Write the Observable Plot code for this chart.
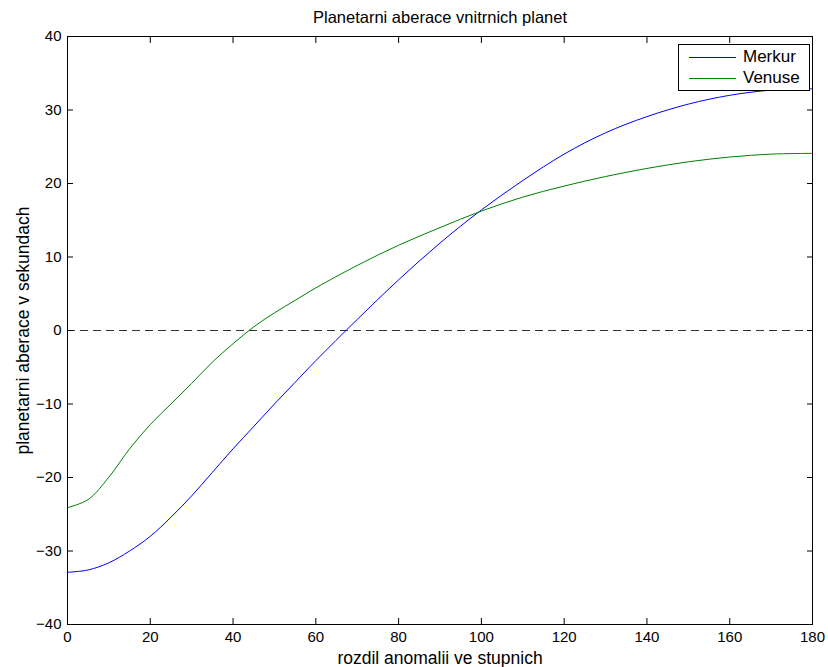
<!DOCTYPE html>
<html>
<head>
<meta charset="utf-8">
<script src="https://cdn.jsdelivr.net/npm/d3@7"></script>
<script src="https://cdn.jsdelivr.net/npm/@observablehq/plot@0.6"></script>
<style>
  html, body { margin: 0; padding: 0; background: #fff; }
  #wrap { position: relative; width: 828px; height: 667px; font-family: "Liberation Sans", Arial, Helvetica, sans-serif; }
  #legend { position: absolute; left: 678px; top: 44px; width: 130px; height: 45px; border: 1px solid #000; background: #fff; font-size: 17px; color: #000; }
  .row { position: absolute; left: 0; height: 20px; display: flex; align-items: center; white-space: nowrap; }
  .sw { width: 47px; height: 0; border-top: 1px solid; margin-left: 10px; margin-right: 7px; }
</style>
</head>
<body>
<div id="wrap"></div>
<script>
const title = "Planetarni aberace vnitrnich planet";
const xLabel = "rozdil anomalii ve stupnich";
const yLabel = "planetarni aberace v sekundach";
const seriesNames = ["Merkur", "Venuse"];
const seriesColors = ["#0000ff", "#008000"];
const xTicks = [0, 20, 40, 60, 80, 100, 120, 140, 160, 180];
const yTicks = [-40, -30, -20, -10, 0, 10, 20, 30, 40];

const anomaly = [0, 5, 10, 15, 20, 25, 30, 35, 40, 45, 50, 55, 60, 70, 80, 90, 100, 110, 120, 130, 140, 150, 160, 170, 180];
const merkur = [-32.9, -32.58, -31.6, -30.0, -28.0, -25.4, -22.5, -19.3, -16.1, -13.05, -10.0, -7.05, -4.1, 1.5, 6.9, 11.9, 16.4, 20.4, 24.0, 26.9, 29.1, 30.8, 32.0, 32.7, 32.9];
const venuse = [-24.1, -23.0, -19.95, -16.1, -12.8, -10.0, -7.2, -4.3, -1.8, 0.5, 2.4, 4.1, 5.8, 8.85, 11.6, 14.0, 16.25, 18.15, 19.65, 20.95, 22.05, 22.95, 23.6, 24.0, 24.1];

const data = [];
[merkur, venuse].forEach((vals, s) => {
  anomaly.forEach((a, i) => data.push({series: seriesNames[s], x: a, y: vals[i]}));
});

const font = "Liberation Sans, Arial, Helvetica, sans-serif";

const chart = Plot.plot({
  width: 828,
  height: 667,
  marginLeft: 67,
  marginRight: 16,
  marginTop: 36,
  marginBottom: 43,
  style: {fontFamily: font, fontSize: "15px", color: "#000", background: "#fff"},
  x: {domain: [0, 180]},
  y: {domain: [-40, 40]},
  color: {domain: seriesNames, range: seriesColors},
  marks: [
    Plot.ruleY([0], {stroke: "#333", strokeWidth: 1.1, strokeDasharray: "8,5"}),
    Plot.line(data, {x: "x", y: "y", z: "series", stroke: "series", strokeWidth: 1, curve: "catmull-rom"}),
    Plot.axisX({anchor: "bottom", ticks: xTicks, tickSize: -6, tickPadding: 13, label: null, fontSize: 15, tickFormat: d => String(d)}),
    Plot.axisX({anchor: "top", ticks: xTicks, tickSize: -6, label: null, tickFormat: () => ""}),
    Plot.axisY({anchor: "left", ticks: yTicks, tickSize: -6, tickPadding: 12, label: null, fontSize: 15}),
    Plot.axisY({anchor: "right", ticks: yTicks, tickSize: -6, label: null, tickFormat: () => ""}),
    Plot.frame({stroke: "#000", strokeWidth: 1}),
    Plot.text([title], {frameAnchor: "top", dy: -19, lineAnchor: "middle", textAnchor: "middle", fontSize: 16.5, fill: "#000"}),
    Plot.text([xLabel], {frameAnchor: "bottom", dy: 34, lineAnchor: "middle", textAnchor: "middle", fontSize: 17.5, fill: "#000"}),
    Plot.text([yLabel], {frameAnchor: "left", dx: -44, rotate: -90, lineAnchor: "middle", textAnchor: "middle", fontSize: 17.5, fill: "#000"})
  ]
});

const wrap = document.getElementById("wrap");
wrap.appendChild(chart);

const legend = document.createElement("div");
legend.id = "legend";
seriesNames.forEach((name, i) => {
  const row = document.createElement("div");
  row.className = "row";
  row.style.top = (2 + i * 21) + "px";
  const sw = document.createElement("div");
  sw.className = "sw";
  sw.style.borderTopColor = seriesColors[i];
  const label = document.createElement("span");
  label.textContent = name;
  row.appendChild(sw);
  row.appendChild(label);
  legend.appendChild(row);
});
wrap.appendChild(legend);
</script>
</body>
</html>
